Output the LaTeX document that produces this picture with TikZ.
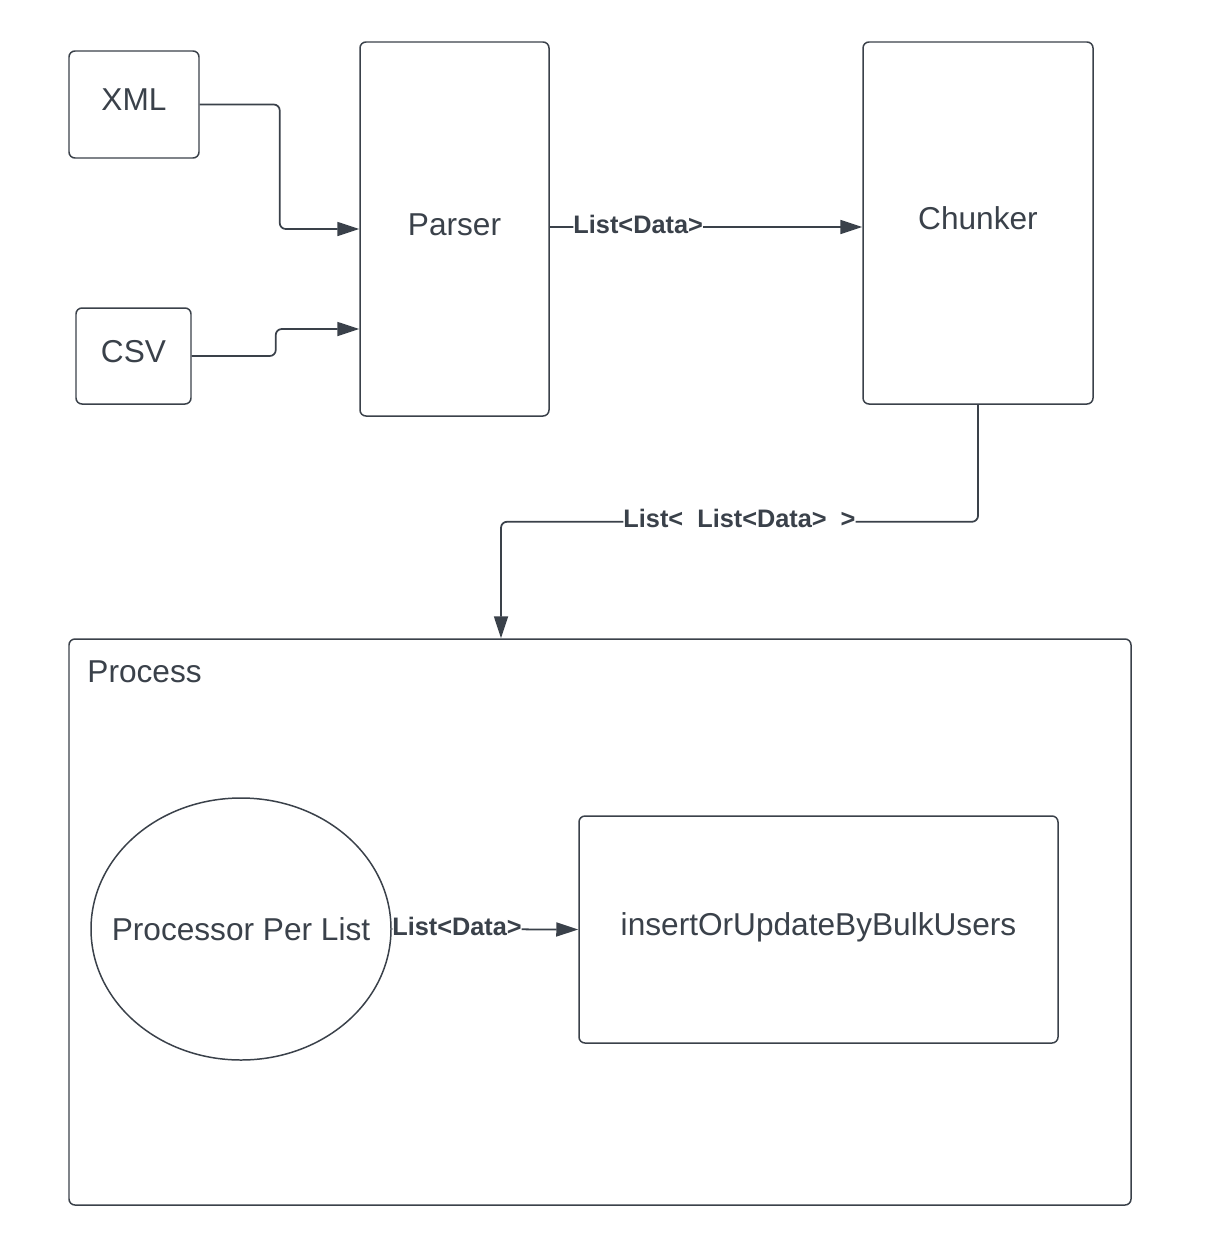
\documentclass[tikz,border=0pt]{standalone}
\usepackage{fontspec}
\setmainfont{Liberation Sans}
\usetikzlibrary{arrows.meta, shapes.geometric}

\definecolor{ink}{HTML}{3A414A}

\tikzset{
  block/.style={draw=ink, line width=0.85pt, rounded corners=0.12cm, text=ink,
    text height=0.5cm, text depth=0.25cm, font=\fontsize{18}{21}\selectfont},
  flow/.style={draw=ink, line width=1pt, rounded corners=0.12cm,
    -{Triangle[length=0.44cm,width=0.28cm]}},
  lbl/.style={fill=white, inner sep=0pt, text=ink, text depth=0.12cm,
    font=\fontsize{14.4}{17}\selectfont\bfseries}
}

\begin{document}
\begin{tikzpicture}
  \useasboundingbox (0,0) rectangle (24.28,-24.68);

  % Inputs
  \node[block, minimum width=2.6cm, minimum height=2.14cm] (xml) at (2.68,-2.09) {XML};
  \node[block, minimum width=2.3cm, minimum height=1.92cm] (csv) at (2.67,-7.12) {CSV};

  % Parser and chunker
  \node[block, minimum width=3.78cm, minimum height=7.48cm] (parser) at (9.09,-4.58) {Parser};
  \node[block, minimum width=4.6cm, minimum height=7.24cm] (chunker) at (19.56,-4.46) {Chunker};

  % Process container
  \node[block, minimum width=21.24cm, minimum height=11.32cm] (process) at (12.0,-18.44) {};
  \node[anchor=west, text=ink, font=\fontsize{18}{21}\selectfont]
    (proctitle) at ([xshift=0.26cm,yshift=-0.68cm]process.north west) {Process};

  % Inside the process
  \node[block, ellipse, minimum width=6.0cm, minimum height=5.24cm, inner sep=0pt,
    label={[text=ink, font=\fontsize{18}{21}\selectfont]center:Processor Per List}]
    (perlist) at (4.82,-18.58) {};
  \node[block, minimum width=9.58cm, minimum height=4.54cm] (bulk) at (16.37,-18.59)
    {insertOrUpdateByBulkUsers};

  % Arrows into the parser
  \draw[flow] (xml.east) -- ++(1.6,0) |- (parser.west);
  \draw[flow] (csv.east) -- ++(1.68,0) |- ([yshift=-2cm]parser.west);

  % Parser to chunker
  \draw[flow] ([yshift=0.04cm]parser.east) -- node[lbl, pos=0.283] {List<Data>}
    ([yshift=0.04cm]parser.east -| chunker.west);

  % Chunker to process
  \draw[flow] (chunker.south) -- ++(0,-2.34)
    -| node[lbl, pos=0.25] {List<\ \ List<Data>\ \ >} ([xshift=-1.98cm]process.north);

  % Processor to bulk insert
  \draw[flow] (perlist.east) -- node[lbl, pos=0.35] {List<Data>} (bulk.west);
\end{tikzpicture}
\end{document}
